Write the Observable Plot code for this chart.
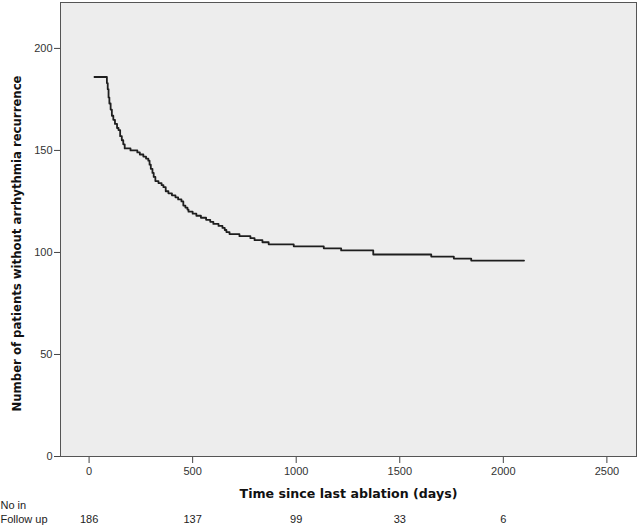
<!DOCTYPE html>
<html>
<head>
<meta charset="utf-8">
<script src="https://cdn.jsdelivr.net/npm/d3@7"></script>
<script src="https://cdn.jsdelivr.net/npm/@observablehq/plot@0.6"></script>
<style>
  html, body { margin: 0; padding: 0; background: #ffffff; }
  #chart svg { display: block; }
</style>
</head>
<body>
<div id="chart"></div>
<script>
// Kaplan-Meier style step curve (days since last ablation, patients without recurrence)
const days = [26, 86, 90, 94, 98, 104, 110, 117, 125, 135, 142, 150, 158, 165, 172, 200, 233, 245, 262, 275, 286, 292, 298, 306, 312, 320, 335, 350, 359, 370, 383, 400, 417, 430, 446, 455, 465, 475, 480, 500, 518, 540, 565, 585, 600, 625, 644, 655, 663, 678, 726, 779, 799, 837, 867, 988, 1133, 1217, 1372, 1652, 1761, 1845, 2100];
const counts = [186, 183, 180, 176, 173, 170, 167, 165, 163, 161, 160, 157, 155, 153, 151, 150, 149, 148, 147, 146, 145, 143, 141, 139, 137, 135, 134, 133, 132, 130, 129, 128, 127, 126, 125, 123, 122, 121, 120, 119, 118, 117, 116, 115, 114, 113, 112, 111, 110, 109, 108, 107, 106, 105, 104, 103, 102, 101, 99, 98, 97, 96, 96];

const xTicks = [0, 500, 1000, 1500, 2000, 2500];
const yTicks = [0, 50, 100, 150, 200];
const atRiskDays = [0, 500, 1000, 1500, 2000];
const atRiskCounts = ["186", "137", "99", "33", "6"];
const xTitle = "Time since last ablation (days)";
const yTitle = "Number of patients without arrhythmia recurrence";
const riskLabels = ["No in", "Follow up"];

const curve = days.map((d, i) => ({day: d, n: counts[i]}));

const tickFont = "Liberation Sans, Arial, sans-serif";
const titleFont = "DejaVu Sans, Verdana, sans-serif";

const chart = Plot.plot({
  width: 640,
  height: 528,
  marginLeft: 60,
  marginRight: 4,
  marginTop: 2,
  marginBottom: 72,
  style: {background: "#ffffff", fontFamily: tickFont},
  x: {domain: [-138, 2643]},
  y: {domain: [0, 222.5]},
  marks: [
    Plot.frame({fill: "#ededed"}),
    Plot.line(curve, {x: "day", y: "n", curve: "step-after", stroke: "#1e1e1e", strokeWidth: 1.8}),
    Plot.frame({stroke: "#555555", strokeWidth: 1}),
    Plot.axisY({ticks: yTicks, tickSize: 6, tickPadding: 2, fontSize: 11, fill: "#333333", stroke: "#444444", label: null, tickFormat: d => String(d)}),
    Plot.axisX({ticks: xTicks, tickSize: 6, tickPadding: 4, fontSize: 11, fill: "#333333", stroke: "#444444", label: null, dy: 1, tickFormat: d => String(d)}),
    Plot.text([xTitle], {frameAnchor: "bottom", dy: 37, text: d => d, fontSize: 12.6, fontWeight: "bold", fontFamily: titleFont, fill: "#111111", lineAnchor: "middle", textAnchor: "middle"}),
    Plot.text([yTitle], {frameAnchor: "left", dx: -43, dy: 14, rotate: -90, text: d => d, fontSize: 11.7, fontWeight: "bold", fontFamily: titleFont, fill: "#111111", lineAnchor: "middle", textAnchor: "middle"}),
    Plot.text(atRiskDays, {x: d => d, text: (d, i) => atRiskCounts[i], frameAnchor: "bottom", dy: 63, fontSize: 11, fill: "#222222", lineAnchor: "middle"}),
    Plot.text([riskLabels[0]], {frameAnchor: "bottom-left", dx: -60, dy: 49, text: d => d, textAnchor: "start", fontSize: 11, fill: "#222222", lineAnchor: "middle"}),
    Plot.text([riskLabels[1]], {frameAnchor: "bottom-left", dx: -60, dy: 63, text: d => d, textAnchor: "start", fontSize: 11, fill: "#222222", lineAnchor: "middle"})
  ]
});
document.getElementById("chart").appendChild(chart);
</script>
</body>
</html>
